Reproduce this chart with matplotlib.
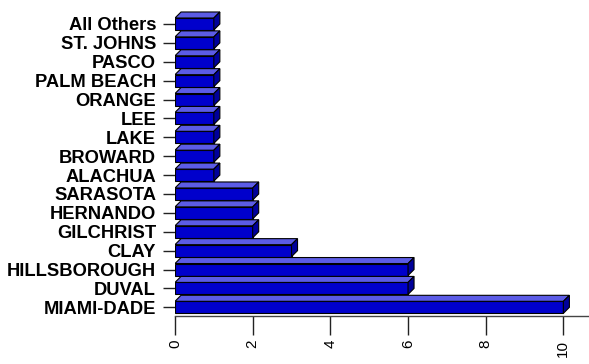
import numpy as np
import matplotlib.pyplot as plt
from matplotlib.patches import Polygon

# Cases by county, bottom row first
counties = ["MIAMI-DADE", "DUVAL", "HILLSBOROUGH", "CLAY", "GILCHRIST",
            "HERNANDO", "SARASOTA", "ALACHUA", "BROWARD", "LAKE", "LEE",
            "ORANGE", "PALM BEACH", "PASCO", "ST. JOHNS", "All Others"]
counts = [10, 6, 6, 3, 2, 2, 2, 1, 1, 1, 1, 1, 1, 1, 1, 1]
xticks = [0, 2, 4, 6, 8, 10]

front_col = "#0000cc"
top_col = "#5c5ce6"
side_col = "#00009a"
h = 0.635      # bar thickness
dx, dy = 0.155, 0.318   # 3d depth offset

fig = plt.figure(figsize=(5.89, 3.64), dpi=100)
ax = fig.add_axes([175 / 589, 1 - 316 / 364, 414 / 589, 316 / 364])

y = np.arange(len(counties))
ax.barh(y, counts, height=h, color=front_col, edgecolor="black",
        linewidth=0.8, zorder=3)
for yi, v in zip(y, counts):
    top = [(0, yi + h / 2), (v, yi + h / 2),
           (v + dx, yi + h / 2 + dy), (dx, yi + h / 2 + dy)]
    side = [(v, yi - h / 2), (v + dx, yi - h / 2 + dy),
            (v + dx, yi + h / 2 + dy), (v, yi + h / 2)]
    ax.add_patch(Polygon(top, closed=True, facecolor=top_col,
                         edgecolor="black", linewidth=0.8, zorder=3))
    ax.add_patch(Polygon(side, closed=True, facecolor=side_col,
                         edgecolor="black", linewidth=0.8, zorder=3))

ax.set_xlim(0, 10.66)
ax.set_ylim(-0.46, 16.27)
ax.set_yticks(y)
ax.set_yticklabels(counties, fontfamily="Liberation Sans",
                   fontweight="bold", fontsize=13.2)
ax.set_xticks(xticks)
ax.set_xticklabels([str(t) for t in xticks], rotation=90,
                   fontfamily="Liberation Sans", fontsize=11)
ax.tick_params(axis="y", length=8.6, width=1, pad=5, color="#222222")
ax.tick_params(axis="x", length=14, width=1, pad=3, color="#222222")

for s in ["top", "right", "left"]:
    ax.spines[s].set_visible(False)
ax.spines["bottom"].set_color("#444444")
ax.spines["bottom"].set_linewidth(1)

fig.savefig("out.png", dpi=100)
